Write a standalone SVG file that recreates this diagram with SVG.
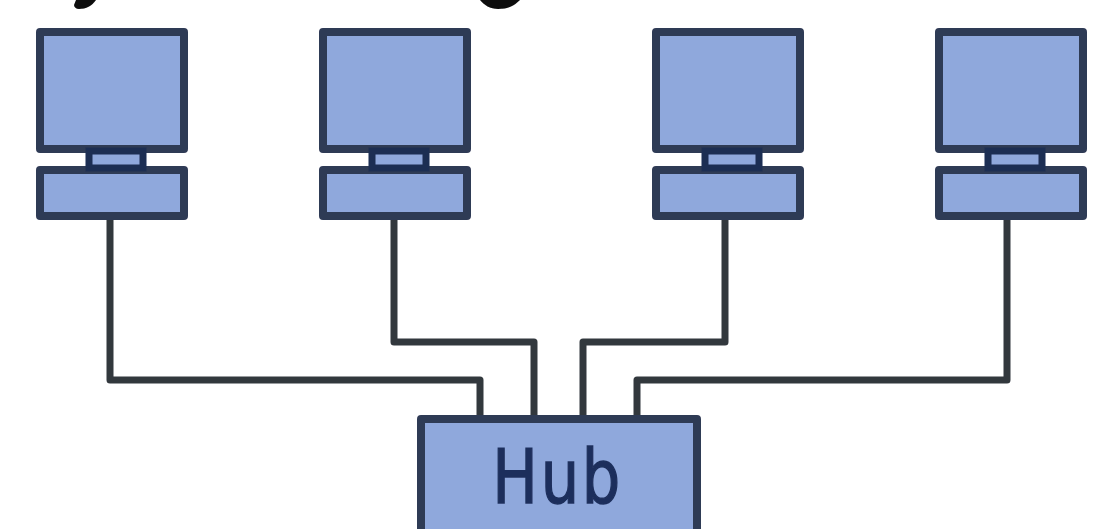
<svg xmlns="http://www.w3.org/2000/svg" width="1103" height="529" viewBox="0 0 1103 529">
<style>
.b{fill:#8fa8dc;stroke:#2f3a55;stroke-width:8;stroke-linejoin:round}
.n{fill:#8fa8dc;stroke:#1d2e52;stroke-width:7}
.c{fill:none;stroke:#33373e;stroke-width:7;stroke-linejoin:round}
</style>
<defs>
<filter id="soft" x="-2%" y="-2%" width="104%" height="104%"><feGaussianBlur stdDeviation="0.7"/></filter>
<g id="pc">
<rect class="b" x="4" y="4" width="144" height="117"/>
<rect class="b" x="4" y="142" width="144" height="46"/>
<rect class="n" x="53" y="123" width="54" height="17"/>
</g>
</defs>
<rect width="1103" height="529" fill="#fff"/>
<g filter="url(#soft)">
<g id="title-fragments" fill="#0a0a0a">
<path d="M76 0H96C92 6 86 9 79 9C76 9 74 7 74 5Z"/>
<path d="M480 0H520C514 6 508 9 498 9C490 9 484 5 480 0Z"/>
</g>
<g id="connectors">
<path class="c" d="M110 218V380H480V420"/>
<path class="c" d="M394 218V342H534V420"/>
<path class="c" d="M725 218V342H583V420"/>
<path class="c" d="M1007 218V380H637V420"/>
</g>
<g id="pc1"><use href="#pc" transform="translate(36 28)"/></g>
<g id="pc2"><use href="#pc" transform="translate(319 28)"/></g>
<g id="pc3"><use href="#pc" transform="translate(652 28)"/></g>
<g id="pc4"><use href="#pc" transform="translate(935 28)"/></g>
<g id="hub">
<rect class="b" x="421" y="419" width="276" height="120"/>
<text transform="translate(498 503) scale(.82 1)" x="-7 52 102" y="0" font-family="'DejaVu Sans',sans-serif" font-size="74" fill="#1e2f5c" stroke="#1e2f5c" stroke-width="1.500">Hub</text>
</g>
</g>
</svg>
